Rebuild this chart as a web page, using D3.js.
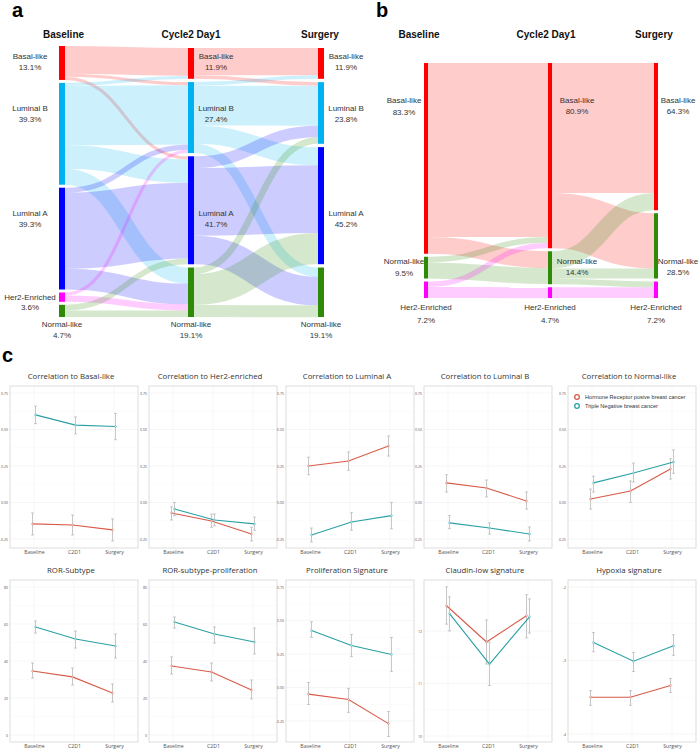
<!DOCTYPE html>
<html><head><meta charset="utf-8">
<script src="https://cdn.jsdelivr.net/npm/d3@7"></script>
<style>body{margin:0;background:#fff} svg{display:block}</style>
</head><body><svg id="chart" width="699" height="749"></svg>
<script>
// ---------------- DATA ----------------
// Panel a
const aNames = ["Basal-like","Luminal B","Luminal A","Her2-Enriched","Normal-like"];
const aColors = ["#ff0000","#00b2f0","#0000ff","#ff00ff","#2f8a07"];
const stageNames = ["Baseline","Cycle2 Day1","Surgery"];
const aBaseline = [13.1, 39.3, 39.3, 3.6, 4.7];
const aCycle2 = [11.9, 27.4, 41.7, 0, 19.1];
const aSurgery = [11.9, 23.8, 45.2, 0, 19.1];
const aFlows1 = [
  ["Basal-like","Basal-like",10.7],["Basal-like","Luminal B",1.2],["Basal-like","Luminal A",1.2],
  ["Luminal B","Basal-like",1.2],["Luminal B","Luminal B",22.9],["Luminal B","Luminal A",9.0],["Luminal B","Normal-like",6.2],
  ["Luminal A","Luminal B",2.0],["Luminal A","Luminal A",29.3],["Luminal A","Normal-like",8.0],
  ["Her2-Enriched","Luminal B",1.2],["Her2-Enriched","Normal-like",2.4],
  ["Normal-like","Luminal A",2.2],["Normal-like","Normal-like",2.5]
];
const aFlows2 = [
  ["Basal-like","Basal-like",10.5],["Basal-like","Luminal B",1.4],
  ["Luminal B","Basal-like",1.4],["Luminal B","Luminal B",15.4],["Luminal B","Luminal A",7.0],["Luminal B","Normal-like",3.6],
  ["Luminal A","Luminal B",4.5],["Luminal A","Luminal A",26.2],["Luminal A","Normal-like",11.0],
  ["Normal-like","Luminal B",2.5],["Normal-like","Luminal A",12.0],["Normal-like","Normal-like",4.6]
];
// Panel b
const bNames = ["Basal-like","Normal-like","Her2-Enriched"];
const bColors = ["#ff0000","#2f8a07","#ff00ff"];
const bBaseline = [83.3, 9.5, 7.2];
const bCycle2 = [80.9, 14.4, 4.7];
const bSurgery = [64.3, 28.5, 7.2];
const bFlows1 = [
  ["Basal-like","Basal-like",76.0],["Basal-like","Normal-like",7.3],
  ["Normal-like","Basal-like",2.5],["Normal-like","Normal-like",7.0],
  ["Her2-Enriched","Basal-like",2.4],["Her2-Enriched","Her2-Enriched",4.8]
];
const bFlows2 = [
  ["Basal-like","Basal-like",56.8],["Basal-like","Normal-like",24.1],
  ["Normal-like","Basal-like",7.5],["Normal-like","Normal-like",4.4],["Normal-like","Her2-Enriched",2.5],
  ["Her2-Enriched","Her2-Enriched",4.7]
];
// Panel c
const timepoints = ["Baseline","C2D1","Surgery"];
const groupNames = ["Hormone Receptor posive breast cancer","Triple Negative breast cancer"];
const groupColors = ["#d75a48","#2aa0a4"];
const sigTitles = ["Correlation to Basal-like","Correlation to Her2-enriched","Correlation to Luminal A","Correlation to Luminal B","Correlation to Normal-like",
  "ROR-Subtype","ROR-subtype-proliferation","Proliferation Signature","Claudin-low signature","Hypoxia signature"];
const corrTicks = [0.75, 0.50, 0.25, 0.00, -0.25];
const rorTicks = [80, 60, 40, 20, 0];
const claudinTicks = [12, 11, 10];
const hypoxiaTicks = [-2, -3, -4];
const sigTicks = [corrTicks, corrTicks, corrTicks, corrTicks, corrTicks, rorTicks, rorTicks, corrTicks, claudinTicks, hypoxiaTicks];
const sigTickDecimals = [2,2,2,2,2,0,0,2,0,0];
const sigLimits = [[-0.312,0.798],[-0.312,0.798],[-0.312,0.798],[-0.312,0.798],[-0.312,0.798],
  [-3.8,83.8],[-3.8,83.8],[-0.407,0.802],[9.886,12.97],[-4.109,-1.905]];
const hrMean = [[-0.147,-0.154,-0.188],[-0.072,-0.127,-0.216],[0.25,0.284,0.387],[0.134,0.099,0.01],[0.024,0.079,0.23],
  [34.6,31.4,22.7],[37.3,34.1,24.3],[-0.05,-0.09,-0.27],[12.48,11.79,12.29],[-3.5,-3.5,-3.34]];
const hrLow = [[-0.223,-0.223,-0.264],[-0.12,-0.17,-0.264],[0.19,0.22,0.318],[0.072,0.038,-0.045],[-0.045,0.0,0.16],
  [30.8,27.0,17.8],[33.0,29.2,19.5],[-0.127,-0.186,-0.366],[12.13,11.37,11.87],[-3.61,-3.61,-3.435]];
const hrHigh = [[-0.072,-0.086,-0.113],[-0.03,-0.08,-0.17],[0.31,0.346,0.455],[0.19,0.154,0.072],[0.092,0.147,0.30],
  [38.9,36.2,27.6],[42.2,38.9,29.7],[0.037,-0.007,-0.18],[12.84,12.21,12.69],[-3.41,-3.41,-3.245]];
const tnMean = [[0.60,0.53,0.52],[-0.045,-0.12,-0.147],[-0.223,-0.134,-0.09],[-0.14,-0.175,-0.216],[0.134,0.202,0.277],
  [58.4,51.9,48.1],[61.1,54.6,50.3],[0.425,0.313,0.246],[12.33,11.37,12.27],[-2.755,-3.01,-2.80]];
const tnLow = [[0.54,0.47,0.43],[-0.09,-0.16,-0.19],[-0.27,-0.19,-0.18],[-0.18,-0.216,-0.264],[0.072,0.14,0.2],
  [55.1,47.0,41.6],[57.8,49.7,43.8],[0.375,0.23,0.12],[12.0,10.96,11.96],[-2.88,-3.15,-2.93]];
const tnHigh = [[0.66,0.586,0.61],[0.0,-0.08,-0.10],[-0.175,-0.07,0.0],[-0.09,-0.14,-0.168],[0.18,0.27,0.36],
  [61.6,56.2,54.6],[63.8,58.4,57.8],[0.49,0.395,0.373],[12.65,11.79,12.61],[-2.62,-2.89,-2.65]];

// ---------------- DRAW ----------------
const svg = d3.select("#chart");
const sans = "'Liberation Sans', Arial, Helvetica, sans-serif";
const open = "'Open Sans', 'Noto Sans', sans-serif";

svg.append("text").attr("x",12).attr("y",17).text("a").attr("font-family",sans).attr("font-weight","bold").attr("font-size",20);
svg.append("text").attr("x",376).attr("y",17).text("b").attr("font-family",sans).attr("font-weight","bold").attr("font-size",20);
svg.append("text").attr("x",2).attr("y",362).text("c").attr("font-family",sans).attr("font-weight","bold").attr("font-size",20);

function sankey(cfg) {
  const g = svg.append("g");
  const cols = cfg.stages.map((vals, ci) => cfg.names.map((n, i) => ({name:n, color:cfg.colors[i], col:ci, value:vals[i], i}))
    .filter(d => d.value > 0));
  const k = d3.min(cols, c => (cfg.y1 - cfg.y0 - (c.length - 1) * cfg.pad) / d3.sum(c, d => d.value));
  const h = d3.scaleLinear().domain([0, 1]).range([0, k]);
  cols.forEach((c, ci) => {
    const total = d3.sum(c, d => h(d.value));
    const top = cfg.y0 + (cfg.colShift ? cfg.colShift[ci] : 0);
    const gap = c.length > 1 ? (cfg.y1 - top - total) / (c.length - 1) : 0;
    let y = top;
    c.forEach(n => { n.x0 = cfg.xs[n.col]; n.x1 = n.x0 + cfg.barW; n.y0 = y; n.y1 = y + h(n.value); y = n.y1 + gap; n.out = []; n.inn = []; });
  });
  const links = [];
  cfg.flows.forEach((set, si) => set.forEach(([s, t, v]) => {
    const source = cols[si].find(n => n.name === s), target = cols[si + 1].find(n => n.name === t);
    const l = {source, target, value: v, width: h(v)};
    source.out.push(l); target.inn.push(l); links.push(l);
  }));
  cols.flat().forEach(n => {
    let y = n.y0;
    n.out.sort((a, b) => a.target.y0 - b.target.y0).forEach(l => { l.sy = y + l.width / 2; y += l.width; });
    y = n.y0;
    n.inn.sort((a, b) => a.source.y0 - b.source.y0).forEach(l => { l.ty = y + l.width / 2; y += l.width; });
  });
  const lk = d3.linkHorizontal().source(d => [d.source.x1, d.sy]).target(d => [d.target.x0, d.ty]);
  g.append("g").selectAll("path").data(links).join("path")
    .attr("d", lk).attr("fill", "none").attr("stroke", d => d.source.color)
    .attr("stroke-opacity", 0.2).attr("stroke-width", d => d.width);
  g.append("g").selectAll("rect").data(cols.flat()).join("rect")
    .attr("x", d => d.x0).attr("y", d => d.y0).attr("width", cfg.barW).attr("height", d => d.y1 - d.y0)
    .attr("fill", d => d.color);
  stageNames.forEach((s, i) => g.append("text").attr("x", cfg.headX[i]).attr("y", 38).attr("text-anchor", "middle")
    .attr("font-family", sans).attr("font-weight", "bold").attr("font-size", 10).attr("fill", "#111").text(s));
  const base = cols[0];
  cols.flat().forEach(n => {
    const p = cfg.labelPos(n, base.find(b => b.name === n.name));
    const t = g.append("text").attr("font-family", sans).attr("font-size", 8).attr("fill", "#333").attr("text-anchor", "middle");
    t.append("tspan").attr("x", p[0]).attr("y", p[1]).attr("dy", "0.35em").text(n.name);
    t.append("tspan").attr("x", p[0]).attr("y", p[1] + p[2]).attr("dy", "0.35em").text(d3.format(".1f")(n.value) + "%");
  });
}

const aLabelOff = {"Basal-like": 10, "Luminal B": 25, "Luminal A": 25, "Her2-Enriched": 5};
sankey({
  names: aNames, colors: aColors, stages: [aBaseline, aCycle2, aSurgery], flows: [aFlows1, aFlows2],
  xs: [59, 188, 318], barW: 6, y0: 46, y1: 317, pad: 3, headX: [63.5, 191, 320], colShift: [0, 2, 2],
  labelPos: (n, b) => {
    if (n.name === "Normal-like") return [(n.x0 + n.x1) / 2, n.y1 + 7, 11];
    const y = b.y0 + aLabelOff[n.name];
    if (n.col === 0) return [n.x0 - 29, y, n.name === "Her2-Enriched" ? 10 : 11];
    return [n.x1 + 22, y, 11];
  }
});
sankey({
  names: bNames, colors: bColors, stages: [bBaseline, bCycle2, bSurgery], flows: [bFlows1, bFlows2],
  xs: [424, 548, 654], barW: 4, y0: 63, y1: 298, pad: 3, headX: [419, 546, 654],
  labelPos: (n, b) => {
    if (n.name === "Her2-Enriched") return [(n.x0 + n.x1) / 2, n.y1 + 9, 13];
    const y = n.name === "Basal-like" ? b.y0 + 37 : b.y0 + 4;
    if (n.col === 0) return [n.x0 - 20, y, 12];
    if (n.col === 2) return [n.x1 + 20, y, 11.5];
    return [n.x1 + 25, y, 11.5];
  }
});

// ---------------- Panel c ----------------
const colX = [[10,138],[149,277],[286,414],[424,552],[568,696]];
const rowY = [[386,548],[580,742]];
sigTitles.forEach((title, si) => {
  const [x0, x1] = colX[si % 5], [y0, y1] = rowY[Math.floor(si / 5)];
  const g = svg.append("g");
  const x = d3.scalePoint().domain(timepoints).range([x0, x1]).padding(0.6);
  const y = d3.scaleLinear().domain(sigLimits[si]).range([y1, y0]);
  const ticks = sigTicks[si];
  const minors = d3.pairs(ticks).map(([a, b]) => (a + b) / 2);
  g.selectAll(".mn").data(minors).join("line").attr("x1", x0).attr("x2", x1).attr("y1", d => y(d)).attr("y2", d => y(d))
    .attr("stroke", "#f4f4f4").attr("stroke-width", 0.4);
  g.selectAll(".mj").data(ticks).join("line").attr("x1", x0).attr("x2", x1).attr("y1", d => y(d)).attr("y2", d => y(d))
    .attr("stroke", "#ececec").attr("stroke-width", 0.5);
  g.selectAll(".vx").data(timepoints).join("line").attr("x1", d => x(d)).attr("x2", d => x(d)).attr("y1", y0).attr("y2", y1)
    .attr("stroke", "#ececec").attr("stroke-width", 0.5);
  g.append("rect").attr("x", x0).attr("y", y0).attr("width", x1 - x0).attr("height", y1 - y0)
    .attr("fill", "none").attr("stroke", "#d4d4d4").attr("stroke-width", 0.8);
  const ax = g.append("g").attr("transform", `translate(${x0},0)`)
    .call(d3.axisLeft(y).tickValues(ticks).tickSize(0).tickPadding(2).tickFormat(d => d.toFixed(sigTickDecimals[si])));
  ax.select(".domain").remove();
  ax.selectAll("text").attr("font-family", open).attr("font-size", 3.6).attr("fill", "#555");
  const bx = g.append("g").attr("transform", `translate(0,${y1})`).call(d3.axisBottom(x).tickSize(0).tickPadding(2));
  bx.select(".domain").remove();
  bx.selectAll("text").attr("font-family", open).attr("font-size", 5.2).attr("fill", "#555");
  g.append("text").attr("x", (x0 + x1) / 2 - 3).attr("y", y0 - 7).attr("text-anchor", "middle")
    .attr("font-family", open).attr("font-size", 7.8).attr("fill", "#333").text(title);
  const series = [[hrMean[si], hrLow[si], hrHigh[si]], [tnMean[si], tnLow[si], tnHigh[si]]];
  series.forEach(([m, lo, hi], gi) => {
    const dx = gi === 0 ? -1.5 : 1.5;
    const pts = timepoints.map((t, i) => ({x: x(t) + dx, m: m[i], lo: lo[i], hi: hi[i]}));
    const eb = g.append("g");
    pts.forEach(p => {
      eb.append("line").attr("x1", p.x).attr("x2", p.x).attr("y1", y(p.lo)).attr("y2", y(p.hi)).attr("stroke", "#b0b0b0").attr("stroke-width", 0.7);
      [p.lo, p.hi].forEach(v => eb.append("line").attr("x1", p.x - 1.4).attr("x2", p.x + 1.4).attr("y1", y(v)).attr("y2", y(v))
        .attr("stroke", "#b0b0b0").attr("stroke-width", 0.7));
    });
    g.append("path").datum(pts).attr("d", d3.line().x(d => d.x).y(d => y(d.m)))
      .attr("fill", "none").attr("stroke", groupColors[gi]).attr("stroke-width", 1.1);
    g.selectAll(null).data(pts).join("circle").attr("cx", d => d.x).attr("cy", d => y(d.m)).attr("r", 0.9)
      .attr("fill", "#fff").attr("stroke", groupColors[gi]).attr("stroke-width", 0.5);
  });
  if (si === 4) {
    groupNames.forEach((nm, gi) => {
      const ly = y0 + 11 + gi * 9;
      g.append("circle").attr("cx", x0 + 9).attr("cy", ly).attr("r", 2.3).attr("fill", "none")
        .attr("stroke", groupColors[gi]).attr("stroke-width", 1.3);
      g.append("text").attr("x", x0 + 17).attr("y", ly).attr("dy", "0.35em").attr("font-family", sans)
        .attr("font-size", 5.6).attr("fill", "#333").text(nm);
    });
  }
});
</script></body></html>
